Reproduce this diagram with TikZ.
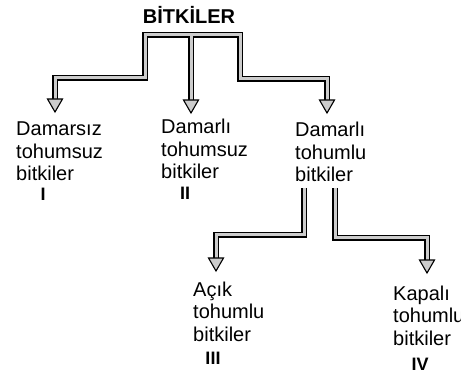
\documentclass[tikz,border=0pt]{standalone}
\usepackage{fontspec}
\setmainfont{Liberation Sans}
\usetikzlibrary{calc}
\begin{document}
\begin{tikzpicture}[x=1pt,y=-1pt,
  lbl/.style={anchor=base west, inner sep=0pt, align=left,
    font=\fontsize{20}{22.5}\selectfont},
  num/.style={anchor=base, inner sep=0pt, font=\bfseries\fontsize{18}{18}\selectfont},
  title/.style={anchor=base, inner sep=0pt, font=\bfseries\fontsize{20}{20}\selectfont},
  pipe/.style={draw=black, line width=1.4pt, double=gray!40, double distance=3pt,
    line join=miter},
  head/.style={draw=black, line width=1.1pt, fill=gray!40, line join=miter},
  arrowhead/.pic={\draw[head] (0,0) -- (-7.5,-13) -- (7.5,-13) -- cycle;},
]
\useasboundingbox (0,0) rectangle (461,377);

% labels (the base anchor sits on the last line)
\node[title] (root) at (189,24) {BİTKİLER};
\node[lbl] (c1) at (16,181) {Damarsız\\tohumsuz\\bitkiler};
\node[lbl] (c2) at (161,179) {Damarlı\\tohumsuz\\bitkiler};
\node[lbl] (c3) at (295,182) {Damarlı\\tohumlu\\bitkiler};
\node[lbl] (c4) at (193,341) {Açık\\tohumlu\\bitkiler};
\node[lbl] (c5) at (393,345) {Kapalı\\tohumlu\\bitkiler};

\node[num] (n1) at (43,201) {I};
\node[num] (n2) at (185,200) {II};
\node[num] (n3) at (213,364) {III};
\node[num] (n4) at (420,370) {IV};

% junction points of the upper branching
\coordinate (tl) at (145,35);
\coordinate (tm) at (191,35);
\coordinate (tr) at (240,35);
\coordinate (lj) at (145,78);
\coordinate (lc) at (55,78);
\coordinate (rj) at (240,79);
\coordinate (rc) at (327,79);
\coordinate (lt) at (55,112);
\coordinate (mt) at (191,113);
\coordinate (rt) at (327,113);

% junction points of the lower branching
\coordinate (a1) at (304,188);
\coordinate (a2) at (304,235);
\coordinate (a3) at (216,235);
\coordinate (at) at (216,271);
\coordinate (b1) at (335,188);
\coordinate (b2) at (335,238);
\coordinate (b3) at (427,238);
\coordinate (bt) at (427,273);

% pipes (one path each so the T-junction stays open)
\draw[pipe] ($(lt)+(0,-12)$) -- (lc) -- (lj) -- (tl) -- (tr) -- (rj) -- (rc) -- ($(rt)+(0,-12)$)
            (tm) -- ($(mt)+(0,-12)$);
\draw[pipe] (a1) -- (a2) -- (a3) -- ($(at)+(0,-12)$)
            (b1) -- (b2) -- (b3) -- ($(bt)+(0,-12)$);

% arrow heads
\pic at (lt) {arrowhead};
\pic at (mt) {arrowhead};
\pic at (rt) {arrowhead};
\pic at (at) {arrowhead};
\pic at (bt) {arrowhead};
\end{tikzpicture}
\end{document}
